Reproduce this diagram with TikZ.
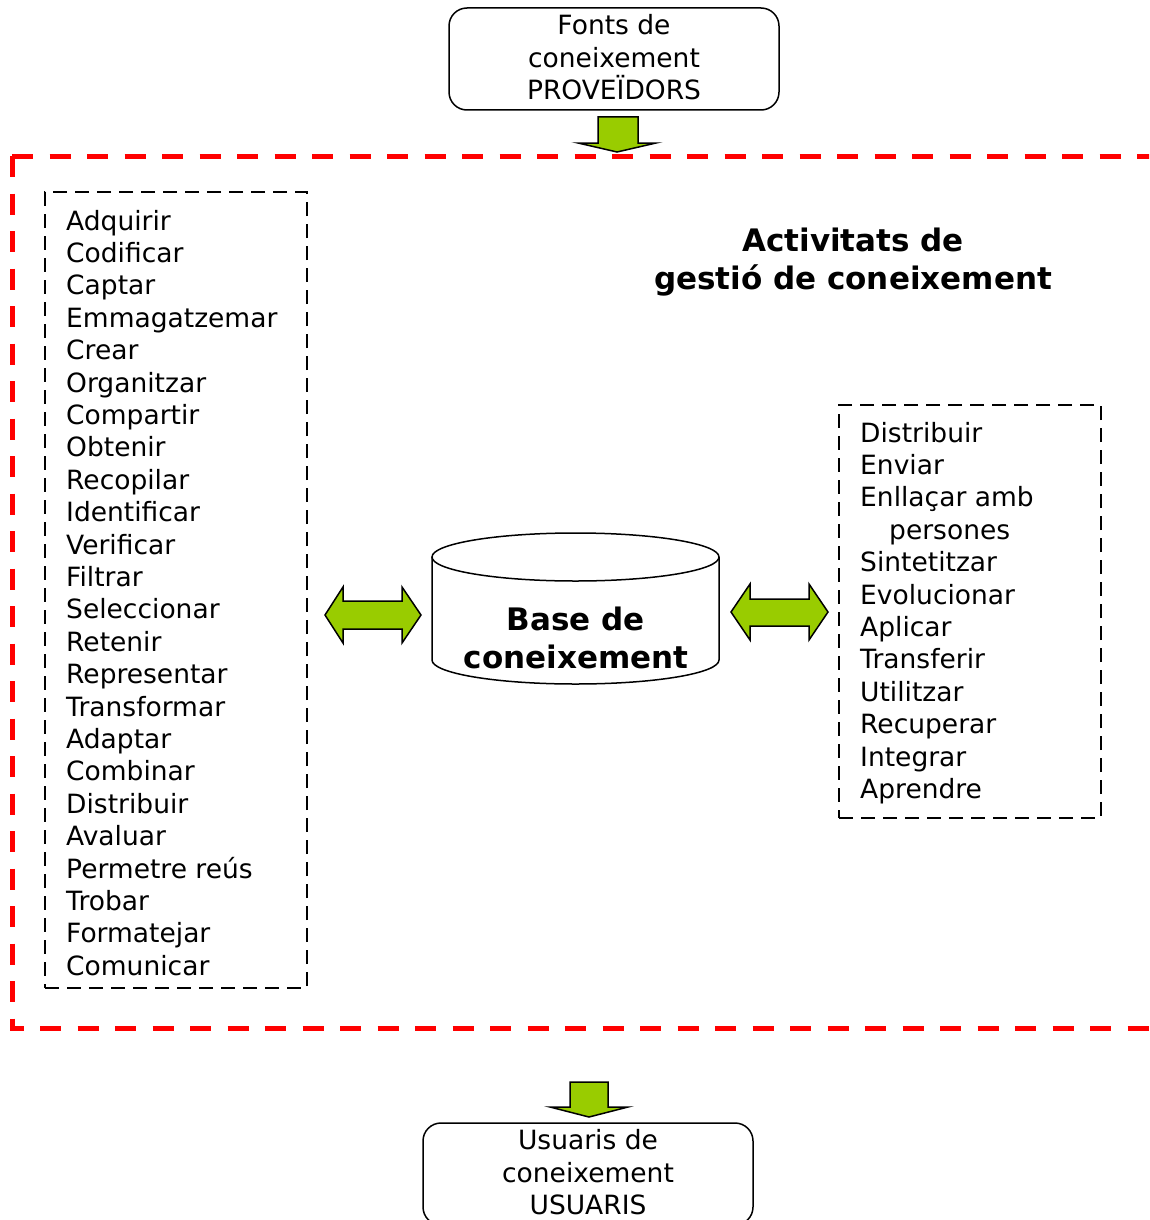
\documentclass[tikz,border=0pt]{standalone}
\usepackage{fontspec}
\setmainfont{DejaVu Sans}
\definecolor{lgreen}{RGB}{153,204,0}
\begin{document}
\begin{tikzpicture}[x=1pt,y=-1pt,
  boxtxt/.style={font=\fontsize{26.5}{32.2}\selectfont},
  listtxt/.style={font=\fontsize{26.5}{32.4}\selectfont, inner sep=0pt, anchor=base west},
  boldtxt/.style={font=\fontsize{31}{38}\selectfont\bfseries, align=center, inner sep=0pt},
  roundbox/.style={boxtxt, draw, line width=1.5pt, rounded corners=18pt, align=center, minimum width=330pt, minimum height=102pt, inner sep=0pt, text depth=4pt},
  dbox/.style={draw, line width=2pt, dash pattern=on 14pt off 8pt, minimum width=262pt, inner sep=0pt},
  redframe/.style={draw=red, line width=5pt, dash pattern=on 21pt off 16.5pt},
  blockarrow/.style={draw, fill=lgreen, line width=1.5pt, line join=miter}]
\useasboundingbox (0,0) rectangle (1149,1220);
\clip (0,0) rectangle (1149,1220);

% red dashed frame (right side lies outside the picture)
\draw[redframe] (12,156) -- (1170,156);
\draw[redframe] (12,156) -- (12,1028) -- (1170,1028);

% top and bottom boxes
\node[roundbox] (src) at (614,59) {Fonts de\\coneixement\\PROVEÏDORS};
\node[roundbox] (usr) at (588,1174) {Usuaris de\\coneixement\\USUARIS};

% down block arrows
\draw[blockarrow] (598,117) -- (638,117) -- (638,143) -- (656,143) -- (617,152) -- (578,143) -- (598,143) -- cycle;
\draw[blockarrow] (570,1082) -- (608,1082) -- (608,1107) -- (628,1107) -- (589,1117) -- (550,1107) -- (570,1107) -- cycle;

% title
\node[boldtxt] (title) at (853,262) {Activitats de\\gestió de coneixement};

% left list
\node[dbox, minimum height=796pt] (lbox) at (176,590) {};
\foreach \w [count=\i] in {Adquirir,Codificar,Captar,Emmagatzemar,Crear,Organitzar,Compartir,Obtenir,Recopilar,Identificar,Verificar,Filtrar,Seleccionar,Retenir,Representar,Transformar,Adaptar,Combinar,Distribuir,Avaluar,Permetre reús,Trobar,Formatejar,Comunicar}
  \node[listtxt] (l\i) at (66,{230+32.4*(\i-1)}) {\w};

% right list
\node[dbox, minimum height=413pt] (rbox) at (970,611.5) {};
\foreach \x/\w [count=\i] in {860/Distribuir,860/Enviar,860/Enllaçar amb,889/persones,860/Sintetitzar,860/Evolucionar,860/Aplicar,860/Transferir,860/Utilitzar,860/Recuperar,860/Integrar,860/Aprendre}
  \node[listtxt] (r\i) at (\x,{442+32.4*(\i-1)}) {\w};

% cylinder
\draw[line width=1.5pt, fill=white] (432,557) -- (432,660) arc[start angle=180, end angle=0, x radius=143.5, y radius=24] -- (719,557);
\draw[line width=1.5pt] (575.5,557) ellipse [x radius=143.5, y radius=24];
\node[boldtxt] (kb) at (576,638) {Base de\\coneixement};

% double block arrows
\draw[blockarrow] (325,615) -- (343,587) -- (343,601) -- (402,601) -- (402,587) -- (421,615) -- (402,643) -- (402,629) -- (343,629) -- (343,643) -- cycle;
\draw[blockarrow] (731,612) -- (750,584) -- (750,599) -- (809,599) -- (809,584) -- (828,612) -- (809,640) -- (809,626) -- (750,626) -- (750,640) -- cycle;
\end{tikzpicture}
\end{document}
